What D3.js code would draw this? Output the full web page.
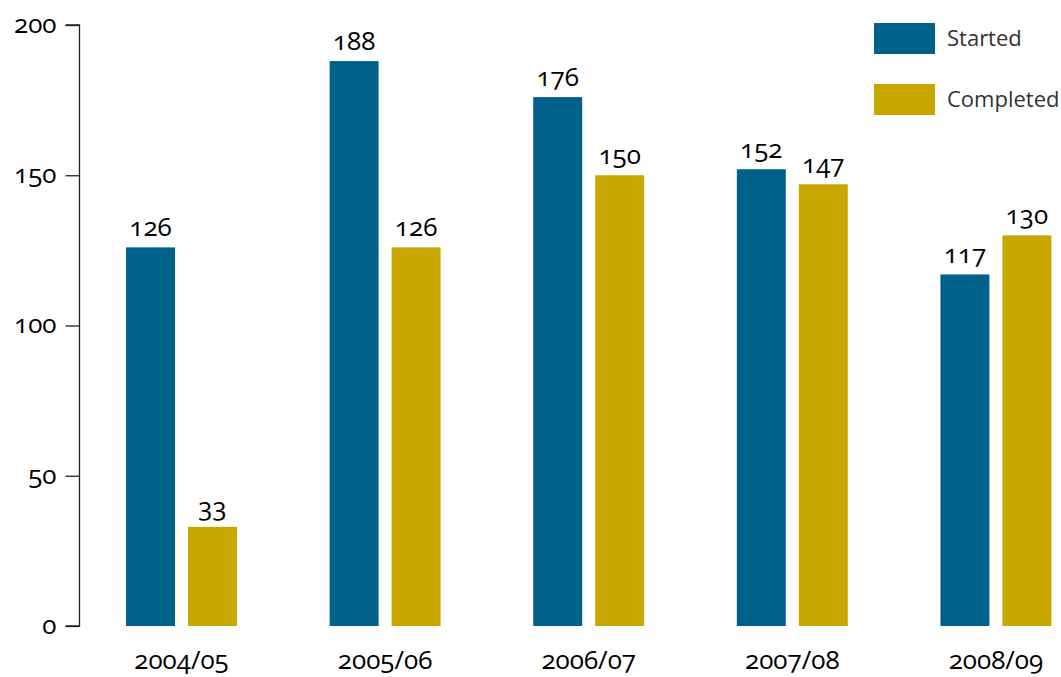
<!DOCTYPE html>
<html><head><meta charset="utf-8">
<script src="https://cdn.jsdelivr.net/npm/d3@7"></script>
<style>
body{margin:0;background:#fff;}
text{font-family:"Open Sans",Lato,sans-serif;font-feature-settings:"onum";}
</style></head>
<body><svg id="c" width="1061" height="677"></svg>
<script>
const categories=["2004/05","2005/06","2006/07","2007/08","2008/09"];
const series=["Started","Completed"];
const started=[126,188,176,152,117];
const completed=[33,126,150,147,130];
const yTicks=[0,50,100,150,200];
const colors=["#00628b","#c8a800"];

const svg=d3.select("#c");
const x0=d3.scaleBand().domain(categories).range([79.7,1097.7]).paddingInner(0.455).paddingOuter(0.2275);
const x1=d3.scaleBand().domain(series).range([0,x0.bandwidth()]).paddingInner(0.21);
const y=d3.scaleLinear().domain([0,200]).range([626,25]);

const data=categories.map((c,i)=>({cat:c,vals:[{s:"Started",v:started[i]},{s:"Completed",v:completed[i]}]}));

const yAxis=d3.axisLeft(y).tickValues(yTicks).tickSize(14).tickPadding(9);
const ga=svg.append("g").attr("transform","translate(79.5,0)").call(yAxis);
ga.selectAll("path,line").attr("stroke","#222").attr("stroke-width",1.3);
ga.select(".domain").attr("d","M-14,"+y(200)+"H0V"+y(0)+"H-14");
ga.selectAll("text").attr("font-size",26).attr("fill","#000").attr("font-family","\"Open Sans\",sans-serif").attr("dy","0.28em");

const g=svg.selectAll(".grp").data(data).enter().append("g").attr("transform",d=>`translate(${x0(d.cat)},0)`);
g.selectAll("rect").data(d=>d.vals).enter().append("rect")
 .attr("x",d=>x1(d.s)).attr("width",x1.bandwidth())
 .attr("y",d=>y(d.v)).attr("height",d=>y(0)-y(d.v))
 .attr("fill",d=>colors[series.indexOf(d.s)]);
g.selectAll("text.v").data(d=>d.vals).enter().append("text").attr("class","v")
 .attr("x",d=>x1(d.s)+x1.bandwidth()/2).attr("y",d=>y(d.v)-11)
 .attr("text-anchor","middle").attr("font-size",26).attr("fill","#000").text(d=>d.v);

svg.selectAll("text.cat").data(categories).enter().append("text").attr("class","cat")
 .attr("x",d=>x0(d)+x0.bandwidth()/2).attr("y",669).attr("text-anchor","middle")
 .attr("font-size",26).attr("fill","#000").text(d=>d);

const lg=svg.append("g").attr("transform","translate(874,23)");
series.forEach((s,i)=>{
 lg.append("rect").attr("x",0).attr("y",i*61).attr("width",61).attr("height",31).attr("fill",colors[i]);
 lg.append("text").attr("x",73).attr("y",i*61+23).attr("font-size",22).attr("fill","#333").text(s);
});
</script></body></html>
